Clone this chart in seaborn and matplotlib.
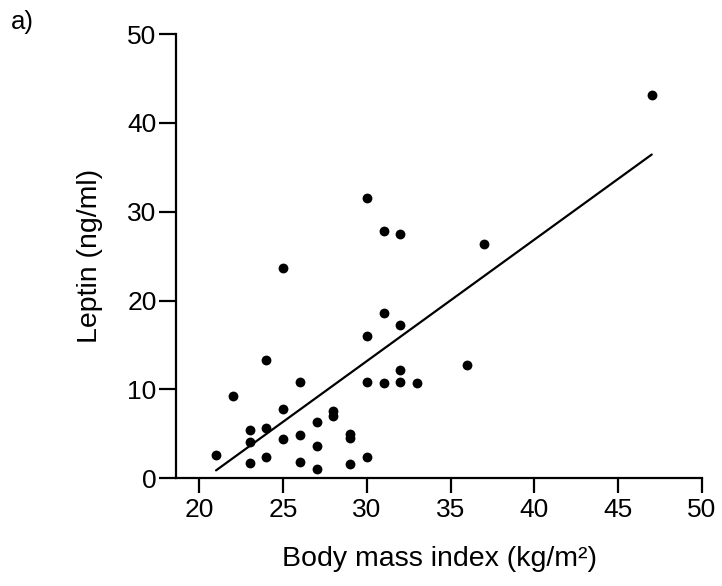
import matplotlib
matplotlib.use("Agg")
import matplotlib.pyplot as plt
import seaborn as sns
import pandas as pd

bmi = [21, 22, 23, 23, 23, 24, 24, 24, 25, 25, 25, 26, 26, 26, 27, 27, 27,
       28, 28, 29, 29, 29, 30, 30, 30, 30, 31, 31, 31, 32, 32, 32, 32, 33,
       36, 37, 47]
leptin = [2.6, 9.3, 5.4, 4.1, 1.7, 13.3, 5.7, 2.4, 23.7, 7.8, 4.4, 10.8, 4.9,
          1.8, 6.3, 3.6, 1.1, 7.6, 7.0, 5.0, 4.5, 1.6, 31.5, 16.0, 10.8, 2.4,
          27.8, 18.6, 10.7, 27.5, 17.2, 12.2, 10.8, 10.7, 12.7, 26.4, 43.1]
xticks = [20, 25, 30, 35, 40, 45, 50]
yticks = [0, 10, 20, 30, 40, 50]

df = pd.DataFrame({"bmi": bmi, "leptin": leptin})

sns.set_theme(style="ticks")
plt.rcParams['font.family'] = ['Liberation Sans', 'DejaVu Sans']

fig = plt.figure(figsize=(7.22, 5.86), dpi=100)
ax = fig.add_axes([176/722, 1-478.3/586, (702-176)/722, (478.3-34)/586])

sns.regplot(data=df, x="bmi", y="leptin", ax=ax, ci=None, truncate=True,
            scatter_kws=dict(s=50, color="black", linewidths=0, alpha=1),
            line_kws=dict(color="black", lw=1.6))

ax.set_xlim(18.61, 50)
ax.set_ylim(0, 50)
ax.set_xticks(xticks)
ax.set_yticks(yticks)
ax.set_xticklabels([str(t) for t in xticks])
ax.set_yticklabels([str(t) for t in yticks])
for s in ["top", "right"]:
    ax.spines[s].set_visible(False)
for s in ["left", "bottom"]:
    ax.spines[s].set_linewidth(1.6)
    ax.spines[s].set_color("black")
ax.tick_params(axis="x", length=11, width=1.6, pad=3.5, labelsize=19, colors="black")
ax.tick_params(axis="y", length=12.5, width=1.6, pad=1.5, labelsize=19, colors="black")

ax.set_xlabel("Body mass index (kg/m²)", fontsize=20.5, color="black")
ax.set_ylabel("Leptin (ng/ml)", fontsize=20.5, color="black")
ax.xaxis.set_label_coords(0.5, -0.152)
ax.yaxis.set_label_coords(-0.139, 0.5)

fig.text(11/722, 1-10/586, "a)", fontsize=18.5, ha="left", va="top", color="black")

fig.savefig("out.png", dpi=100)
